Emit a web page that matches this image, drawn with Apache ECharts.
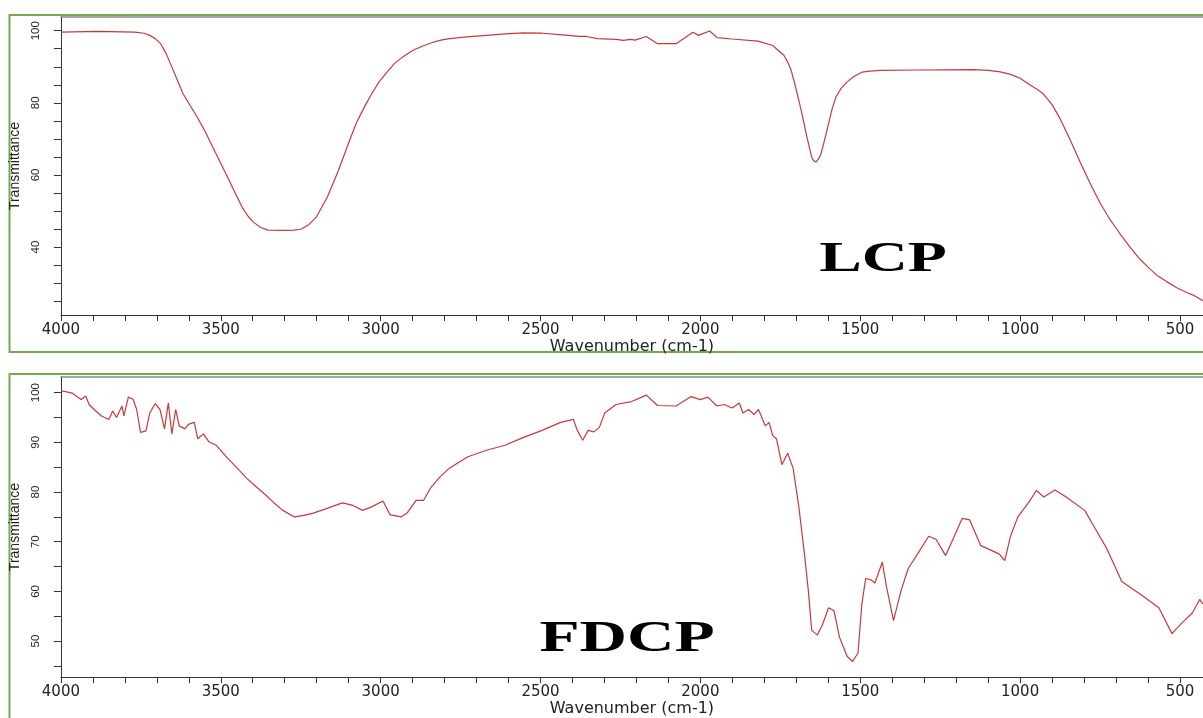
<!DOCTYPE html>
<html>
<head>
<meta charset="utf-8">
<script src="https://cdn.jsdelivr.net/npm/echarts@6/dist/echarts.min.js"></script>
<style>
  html, body { margin: 0; padding: 0; background: #ffffff; }
  #chart { width: 1203px; height: 718px; }
</style>
</head>
<body>
<div id="chart"></div>
<script>
// ---- data ----
const lcpWavenumber = [4000,3884,3769,3740,3722,3705,3688,3670,3653,3635,3618,3595,3572,3548,3525,3502,3479,3456,3433,3415,3398,3375,3352,3306,3270,3248,3225,3201,3167,3132,3097,3075,3051,3028,3005,2980,2958,2930,2900,2870,2843,2815,2785,2730,2669,2610,2553,2495,2440,2380,2356,2322,2264,2241,2218,2204,2169,2134,2076,2023,2006,1971,1948,1901,1820,1774,1739,1728,1716,1704,1692,1680,1669,1660,1652,1645,1638,1630,1623,1612,1599,1588,1576,1560,1541,1520,1495,1470,1437,1321,1146,1100,1062,1030,1000,970,945,928,900,875,845,812,780,750,718,687,655,625,595,570,542,510,479,455,428];
const lcpTransmittance = [99.6,99.8,99.6,99.3,98.7,97.8,96.4,93.5,89.9,86.1,82.5,79.1,75.8,71.9,67.7,63.6,59.4,55.2,51.0,48.6,46.9,45.4,44.7,44.6,44.7,45.0,46.2,48.3,53.8,61.2,69.6,74.6,78.8,82.5,85.8,88.5,90.8,92.8,94.5,95.7,96.6,97.3,97.8,98.3,98.7,99.1,99.4,99.3,98.9,98.4,98.4,97.8,97.6,97.3,97.6,97.4,98.4,96.4,96.4,99.6,98.7,99.9,98.1,97.7,97.1,95.9,93.2,91.5,89.0,85.0,80.7,76.0,71.4,68.0,64.9,63.9,63.6,64.5,65.8,69.5,74.2,78.3,81.6,84.0,85.8,87.3,88.5,88.8,89.0,89.1,89.2,89.0,88.6,87.9,86.8,85.0,83.6,82.5,79.5,75.6,70.0,63.5,57.5,52.2,47.5,43.6,39.8,36.6,34.0,32.0,30.4,28.7,27.4,26.5,25.1];

const fdcpWavenumber = [4000,3965,3937,3922,3912,3896,3873,3850,3838,3826,3809,3803,3789,3774,3763,3751,3734,3722,3705,3690,3676,3664,3653,3641,3630,3612,3601,3583,3572,3554,3537,3514,3479,3450,3421,3392,3363,3335,3306,3271,3240,3213,3167,3120,3086,3057,3028,2993,2970,2935,2918,2889,2866,2843,2815,2785,2755,2727,2669,2611,2553,2495,2437,2397,2385,2368,2351,2333,2316,2299,2264,2215,2169,2134,2076,2029,2000,1977,1948,1925,1901,1878,1867,1849,1832,1818,1797,1785,1774,1762,1745,1727,1710,1692,1675,1663,1652,1634,1617,1599,1582,1565,1541,1524,1507,1495,1483,1466,1454,1431,1419,1396,1373,1350,1321,1286,1263,1233,1210,1181,1158,1123,1088,1065,1048,1030,1007,972,949,926,891,856,798,763,728,682,624,566,525,496,461,438,428];
const fdcpTransmittance = [100.4,99.9,98.6,99.3,97.6,96.6,95.3,94.6,96.3,95.0,97.3,95.3,99.1,98.6,96.6,92.0,92.3,95.9,97.8,96.6,92.7,97.9,91.7,96.6,93.3,92.7,93.6,94.0,90.7,91.7,90.1,89.4,86.8,84.9,82.9,81.2,79.6,77.9,76.3,75.0,75.3,75.7,76.7,77.8,77.3,76.3,77.0,78.2,75.4,75.0,75.7,78.3,78.3,80.9,83.0,84.8,86.0,87.1,88.4,89.4,91.0,92.4,94.0,94.6,92.4,90.4,92.4,92.1,93.0,95.9,97.6,98.2,99.5,97.4,97.3,99.2,98.6,99.1,97.3,97.6,96.9,97.9,95.9,96.6,95.6,96.6,93.3,94.0,91.4,90.7,85.5,87.8,84.8,77.0,67.8,60.6,52.2,51.2,53.5,56.7,56.1,50.8,46.9,45.9,47.6,57.4,62.6,62.3,61.7,65.9,61.3,54.1,60.0,64.6,67.5,71.1,70.5,67.2,70.5,74.7,74.4,69.2,68.2,67.5,66.2,71.1,75.0,78.0,80.3,79.0,80.4,79.0,76.3,72.4,68.5,62.0,59.4,56.7,51.5,53.5,55.7,58.4,57.4];

const xTickValues = [500,600,700,800,900,1000,1100,1200,1300,1400,1500,1600,1700,1800,1900,2000,2100,2200,2300,2400,2500,2600,2700,2800,2900,3000,3100,3200,3300,3400,3500,3600,3700,3800,3900,4000];
const xTickLabels = [500,1000,1500,2000,2500,3000,3500,4000];
const lcpYTicks = [25,30,35,40,45,50,55,60,65,70,75,80,85,90,95,100];
const lcpYLabels = [40,60,80,100];
const fdcpYTicks = [45,50,55,60,65,70,75,80,85,90,95,100];
const fdcpYLabels = [50,60,70,80,90,100];

const sampleNames = ['LCP', 'FDCP'];
const axisTitleX = 'Wavenumber (cm-1)';
const axisTitleY = 'Transmittance';

// ---- build chart ----
const zip = (a, b) => a.map((v, i) => [v, b[i]]);
const axisColor = '#333333';
const lineColor = '#c83a3a';
const green = '#70ad47';

const grids = [
  { left: 60, right: 0, top: 17, height: 298 },
  { left: 60, right: 0, top: 377, height: 308 }
];

function bottomX(gi) {
  return {
    gridIndex: gi, type: 'value', inverse: true, min: 428, max: 4000,
    position: 'bottom',
    axisLine: { show: true, onZero: false, lineStyle: { color: axisColor, width: 1 } },
    axisTick: { show: true, inside: false, length: 6, customValues: xTickValues, lineStyle: { color: axisColor, width: 1 } },
    axisLabel: { customValues: xTickLabels, formatter: v => String(v), margin: 8,
                 fontFamily: 'DejaVu Sans', fontSize: 15, color: '#222' },
    splitLine: { show: false },
    name: axisTitleX, nameLocation: 'middle', nameGap: 21,
    nameTextStyle: { fontFamily: 'DejaVu Sans', fontSize: 16, color: '#222' }
  };
}
function topX(gi) {
  return {
    gridIndex: gi, type: 'value', inverse: true, min: 428, max: 4000,
    position: 'top',
    axisLine: { show: true, onZero: false, lineStyle: { color: '#8a8a8a', width: 1.5 } },
    axisTick: { show: false }, axisLabel: { show: false }, splitLine: { show: false }
  };
}
function leftY(gi, min, max, ticks, labels) {
  return {
    gridIndex: gi, type: 'value', min: min, max: max,
    axisLine: { show: true, lineStyle: { color: axisColor, width: 1 } },
    axisTick: { show: true, length: 7, customValues: ticks, lineStyle: { color: axisColor, width: 1 } },
    axisLabel: { customValues: labels, formatter: v => String(v), rotate: 90, margin: 19,
                 fontFamily: 'Liberation Sans', fontSize: 11.5, color: '#222' },
    splitLine: { show: false },
    name: axisTitleY, nameLocation: 'middle', nameGap: 30, nameRotate: 90,
    nameTextStyle: { fontFamily: 'Liberation Sans', fontSize: 14, color: '#222' }
  };
}

const option = {
  animation: false,
  backgroundColor: '#ffffff',
  grid: grids,
  xAxis: [bottomX(0), bottomX(1), topX(0), topX(1)],
  yAxis: [
    leftY(0, 21.14, 103.8, lcpYTicks, lcpYLabels),
    leftY(1, 42.75, 103.14, fdcpYTicks, fdcpYLabels)
  ],
  series: [
    { name: sampleNames[0], type: 'line', xAxisIndex: 0, yAxisIndex: 0, data: zip(lcpWavenumber, lcpTransmittance),
      showSymbol: false, smooth: false, lineStyle: { color: lineColor, width: 1.2 } },
    { name: sampleNames[1], type: 'line', xAxisIndex: 1, yAxisIndex: 1, data: zip(fdcpWavenumber, fdcpTransmittance),
      showSymbol: false, smooth: false, lineStyle: { color: lineColor, width: 1.2 } }
  ],
  graphic: [
    { type: 'rect', shape: { x: 9.5, y: 15, width: 1300, height: 337 }, style: { fill: 'none', stroke: green, lineWidth: 2 }, silent: true },
    { type: 'rect', shape: { x: 9.5, y: 374, width: 1300, height: 400 }, style: { fill: 'none', stroke: green, lineWidth: 2 }, silent: true },
    { type: 'text', x: 883, y: 260, scaleX: 1.52, scaleY: 1,
      style: { text: sampleNames[0], x: 0, y: 0, textAlign: 'center', textVerticalAlign: 'middle', font: 'bold 42px "Liberation Serif"', fill: '#000' } },
    { type: 'text', x: 627, y: 639, scaleX: 1.46, scaleY: 1,
      style: { text: sampleNames[1], x: 0, y: 0, textAlign: 'center', textVerticalAlign: 'middle', font: 'bold 45px "Liberation Serif"', fill: '#000' } }
  ]
};

const chart = echarts.init(document.getElementById('chart'), null, { renderer: 'canvas' });
chart.setOption(option);
</script>
</body>
</html>
